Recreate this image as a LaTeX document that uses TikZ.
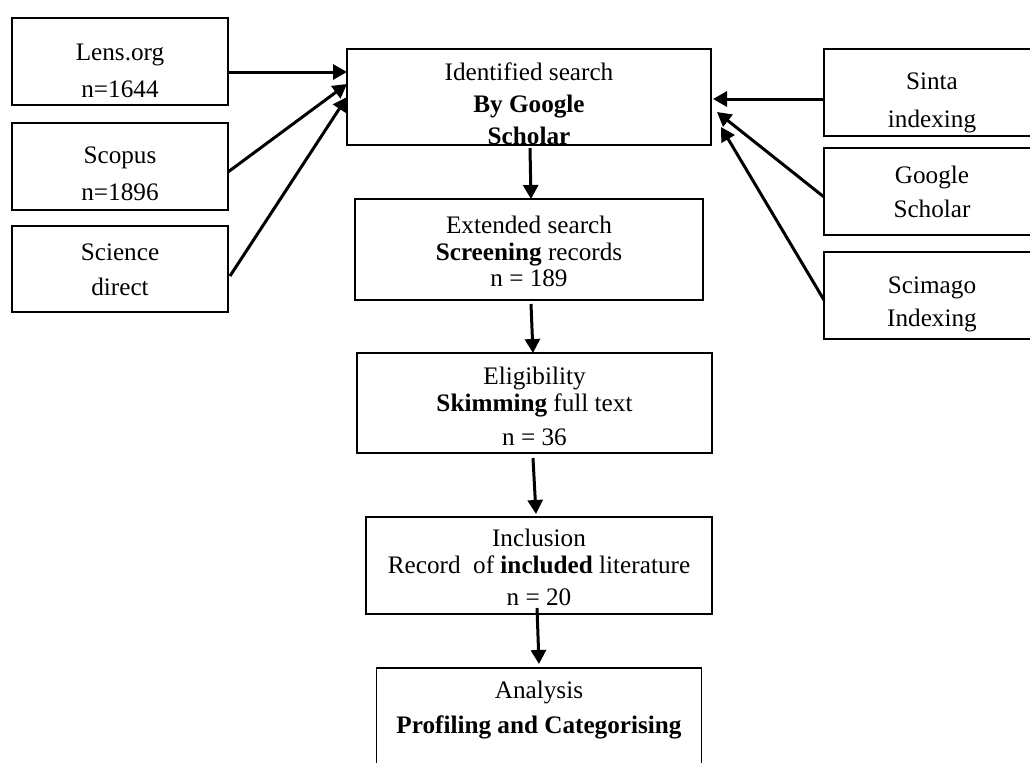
\documentclass[tikz,border=0pt]{standalone}
\usepackage{fontspec}
\setmainfont{Liberation Serif}
\usetikzlibrary{arrows.meta,positioning}

\begin{document}
\begin{tikzpicture}[x=0.5pt,y=-0.5pt,>={Triangle[length=7pt,width=7.5pt]},
	every node/.style={font=\fontsize{12.6}{15}\selectfont,align=center,inner sep=0pt,outer sep=0pt,text depth=0pt},
	src/.style={draw,line width=1pt,minimum width=108pt,minimum height=43.5pt},
	stage/.style={draw,line width=0.7pt},
	flow/.style={->,line width=1.5pt}]
	\useasboundingbox (0,0) rectangle (1030,762);
	\clip (0,0) rectangle (1030,762);

	% sources on the left
	\node[src,text height=35.5pt] (lens) at (120,61.5) {Lens.org\\[3.5pt]n=1644};
	\node[src,text height=33.5pt] (scopus) [below=9pt of lens] {Scopus\\[3.5pt]n=1896};
	\node[src,text height=26pt,minimum height=43pt] (science) [below=8pt of scopus] {Science\\[2.5pt]direct};

	% sources on the right
	\node[src,text height=34.5pt] (sinta) at (932,92.5) {Sinta\\[4pt]indexing};
	\node[src,text height=25.5pt] (gscholar) [below=6pt of sinta] {Google\\[2pt]Scholar};
	\node[src,text height=30.5pt] (scimago) [below=8.5pt of gscholar] {Scimago\\[1.5pt]Indexing};

	% stages
	\node[stage,text height=47.9pt,minimum width=182pt,minimum height=48pt] (ident) at (529,97)
		{Identified search\\[1pt]\textbf{By Google}\\[1pt]\textbf{Scholar}};
	\node[stage,text height=36.5pt,minimum width=174pt,minimum height=50.5pt] (ext) [below=27pt of ident]
		{Extended search\\[-1.5pt]\textbf{Screening} records\\[-2pt]n = 189};
	\node[stage,text height=42pt,minimum width=177.5pt,minimum height=50pt] (elig) [below=26.5pt of ext,xshift=2.75pt]
		{Eligibility\\[-1.5pt]\textbf{Skimming} full text\\[2pt]n = 36};
	\node[stage,text height=39.5pt,minimum width=173pt,minimum height=48.5pt] (incl) [below=32pt of elig,xshift=2.25pt]
		{Inclusion\\[-1.5pt]Record\ \ of \textbf{included} literature\\[1pt]n = 20};
	\node[stage,text height=0pt,text depth=1pt,minimum width=162.5pt,minimum height=66pt] (anal) [below=27pt of incl]
		{Analysis\\[2.5pt]\textbf{Profiling and Categorising}};

	\draw[flow] ([yshift=-5.25pt]lens.east) -- ([yshift=12.5pt]ident.west);
	\draw[flow] ([yshift=-2.75pt]scopus.east) -- ([yshift=6.5pt]ident.west);
	\draw[flow] ([xshift=1pt,yshift=-3.5pt]science.east) -- (ident.west);

	\draw[flow] ([yshift=-3.25pt]sinta.west) -- ([xshift=1pt,yshift=-1pt]ident.east);
	\draw[flow] ([yshift=-2.75pt]gscholar.west) -- ([xshift=3pt,yshift=-7.5pt]ident.east);
	\draw[flow] ([yshift=-2.25pt]scimago.west) -- ([xshift=5pt,yshift=-15pt]ident.east);

	\draw[flow] ([xshift=0.5pt,yshift=-1.5pt]ident.south) -- ([xshift=1pt]ext.north);
	\draw[flow] ([xshift=1pt,yshift=-2pt]ext.south) -- ([xshift=-0.75pt]elig.north);
	\draw[flow] ([xshift=-0.75pt,yshift=-2.5pt]elig.south) -- ([xshift=-1.5pt,yshift=1.5pt]incl.north);
	\draw[flow] ([xshift=-1pt,yshift=3pt]incl.south) -- ([yshift=2pt]anal.north);
\end{tikzpicture}
\end{document}
